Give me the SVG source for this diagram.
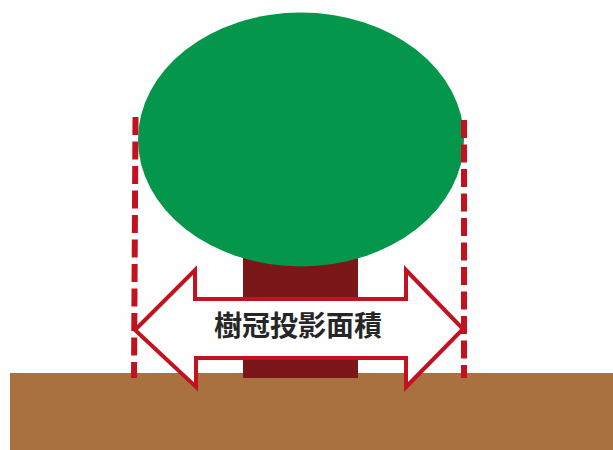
<svg xmlns="http://www.w3.org/2000/svg" width="613" height="450" viewBox="0 0 613 450">
<style>
.dash{fill:none;stroke:#c2121f;stroke-width:6;stroke-dasharray:18 6.500}
.lab{font-family:"Noto Sans CJK JP","Noto Sans CJK SC",sans-serif;font-size:28px;font-weight:700;fill:#262626;text-anchor:middle}
</style>
<rect width="613" height="450" fill="#fefefe"/>
<g id="ground"><rect x="10" y="373" width="603" height="77" fill="#a8713f"/></g>
<g id="trunk"><rect x="243" y="250" width="115" height="128" fill="#7c1719"/></g>
<g id="crown"><ellipse cx="301" cy="139.500" rx="163" ry="127" fill="#04964a"/></g>
<g id="guides">
<path class="dash" d="M135.500 117L134 378"/>
<path class="dash" d="M464 120L464 378"/>
</g>
<g id="arrow">
<path d="M135 330L195 270V299H406V270L463 329L406 387V358H196V387Z" fill="#fefefe" stroke="#c2121f" stroke-width="4" stroke-linejoin="miter"/>
<text class="lab" x="298" y="336">樹冠投影面積</text>
</g>
</svg>
